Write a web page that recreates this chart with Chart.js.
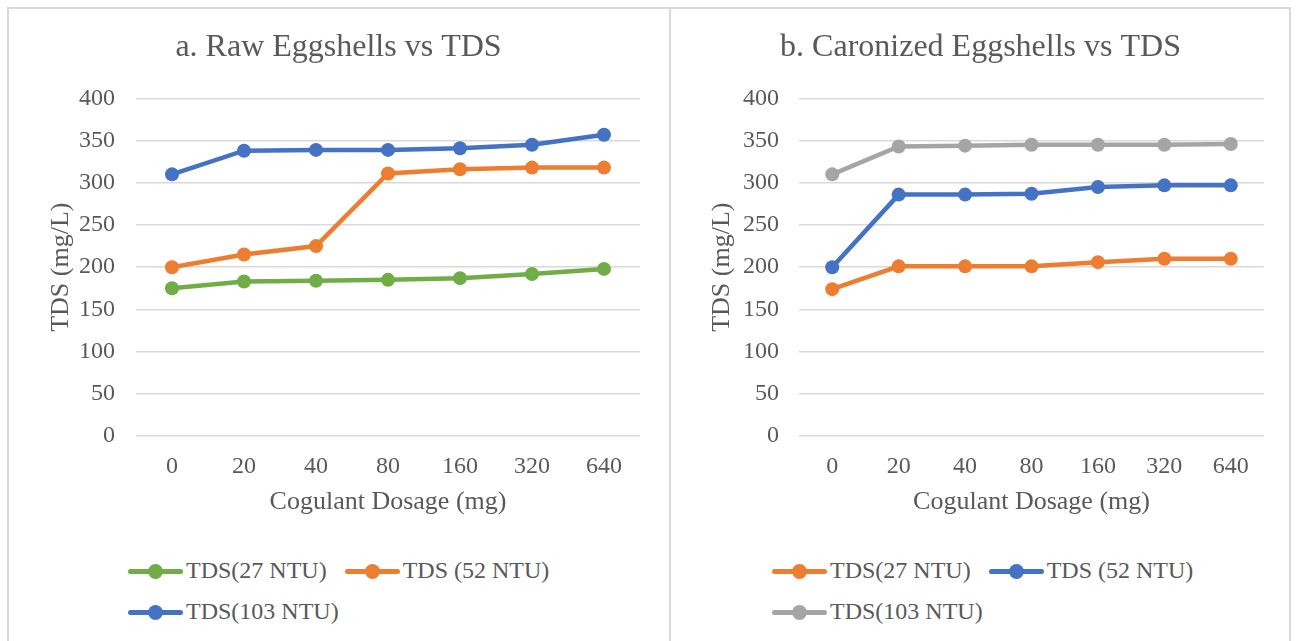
<!DOCTYPE html>
<html>
<head>
<meta charset="utf-8">
<script src="https://cdn.jsdelivr.net/npm/chart.js@4"></script>
<style>
    body {
        margin: 0;
        background: #fff;
        font-family: 'Liberation Serif', 'Times New Roman', serif;
        color: #595959;
    }
    .box {
        position: absolute;
        top: 7px;
        height: 640px;
        border: 2px solid #d9d9d9;
        box-sizing: border-box;
    }
    .chart-wrap {
        position: absolute;
        top: 0;
        height: 545px;
    }
    .legend {
        position: absolute;
        top: 550px;
        width: 450px;
        display: flex;
        flex-wrap: wrap;
        font-size: 24px;
    }
    .legend-item {
        display: flex;
        align-items: center;
        height: 41px;
        margin-right: 18px;
    }
    .legend-mark {
        position: relative;
        width: 55px;
        height: 14px;
        margin-right: 3px;
    }
    .legend-mark .ln {
        position: absolute;
        left: 0;
        right: 0;
        top: 5px;
        height: 5px;
        border-radius: 3px;
    }
    .legend-mark .dot {
        position: absolute;
        left: 20px;
        top: 0;
        width: 15px;
        height: 15px;
        border-radius: 50%;
    }
</style>
</head>
<body>
<div class="box" style="left:7px; width:664px;"></div>
<div class="box" style="left:669px; width:622px;"></div>

<div class="chart-wrap" style="left:8px; width:661px;"><canvas id="chart-raw"></canvas></div>
<div class="chart-wrap" style="left:672px; width:617px;"><canvas id="chart-carb"></canvas></div>

<div class="legend" id="legend-raw" style="left:128px;"></div>
<div class="legend" id="legend-carb" style="left:772px;"></div>

<script>
    const dosage = ['0', '20', '40', '80', '160', '320', '640'];
    const seriesNames = ['TDS(27 NTU)', 'TDS (52 NTU)', 'TDS(103 NTU)'];

    // a. raw eggshells
    const rawTds27 = [175, 183, 184, 185, 187, 192, 198];
    const rawTds52 = [200, 215, 225, 311, 316, 318, 318];
    const rawTds103 = [310, 338, 339, 339, 341, 345, 357];
    const rawColors = ['#70AD47', '#ED7D31', '#4472C4'];

    // b. carbonized eggshells
    const carbTds27 = [174, 201, 201, 201, 206, 210, 210];
    const carbTds52 = [200, 286, 286, 287, 295, 297, 297];
    const carbTds103 = [310, 343, 344, 345, 345, 345, 346];
    const carbColors = ['#ED7D31', '#4472C4', '#A5A5A5'];

    const yTicks = [0, 50, 100, 150, 200, 250, 300, 350, 400];

    const textColor = '#595959';
    const fontFamily = "'Liberation Serif', 'Times New Roman', serif";

    function makeDatasets(values, colors) {
        return values.map((v, i) => ({
            label: seriesNames[i],
            data: v,
            borderColor: colors[i],
            backgroundColor: colors[i],
            borderWidth: 4.5,
            pointRadius: 7,
            pointHoverRadius: 7,
            pointBorderWidth: 0,
            tension: 0
        }));
    }

    function makeChart(id, title, datasets, opts) {
        const ctx = document.getElementById(id).getContext('2d');
        return new Chart(ctx, {
            type: 'line',
            data: {
                labels: dosage,
                datasets: datasets
            },
            options: {
                responsive: true,
                maintainAspectRatio: false,
                animation: false,
                layout: { padding: 0 },
                plugins: {
                    legend: { display: false },
                    tooltip: { enabled: false },
                    title: {
                        display: true,
                        text: title,
                        color: textColor,
                        font: { family: fontFamily, size: 32, weight: 'normal' },
                        padding: { top: 28, bottom: 32 }
                    }
                },
                scales: {
                    x: {
                        offset: true,
                        grid: { display: false },
                        border: { display: false },
                        ticks: {
                            color: textColor,
                            font: { family: fontFamily, size: 24 },
                            padding: 8,
                            maxRotation: 0
                        },
                        title: {
                            display: true,
                            text: 'Cogulant Dosage (mg)',
                            color: textColor,
                            font: { family: fontFamily, size: 26 },
                            padding: { top: 0, bottom: 27 }
                        },
                        afterFit: scale => { scale.height = 109; }
                    },
                    y: {
                        min: 0,
                        max: 400,
                        afterBuildTicks: scale => {
                            scale.ticks = yTicks.map(v => ({ value: v }));
                        },
                        grid: {
                            color: '#d9d9d9',
                            lineWidth: 1.5,
                            drawTicks: false
                        },
                        border: { display: false },
                        ticks: {
                            color: textColor,
                            font: { family: fontFamily, size: 24 },
                            padding: opts.tickPad
                        },
                        title: {
                            display: true,
                            text: 'TDS (mg/L)',
                            color: textColor,
                            font: { family: fontFamily, size: 26 },
                            padding: { top: opts.titlePad, bottom: 0 }
                        },
                        afterFit: scale => { scale.width = opts.yWidth; }
                    },
                    // empty right axis, only keeps a margin so the title stays centred on the box
                    spacer: {
                        type: 'linear',
                        position: 'right',
                        display: true,
                        grid: { display: false },
                        border: { display: false },
                        ticks: { display: false },
                        afterFit: scale => { scale.width = opts.right; }
                    }
                }
            }
        });
    }

    function makeLegend(id, colors) {
        const el = document.getElementById(id);
        seriesNames.forEach((name, i) => {
            const item = document.createElement('div');
            item.className = 'legend-item';
            item.innerHTML =
                '<span class="legend-mark">' +
                '<span class="ln" style="background:' + colors[i] + '"></span>' +
                '<span class="dot" style="background:' + colors[i] + '"></span>' +
                '</span><span>' + name + '</span>';
            el.appendChild(item);
        });
    }

    makeChart('chart-raw', 'a. Raw Eggshells vs TDS',
        makeDatasets([rawTds27, rawTds52, rawTds103], rawColors),
        { right: 29, yWidth: 128, tickPad: 21, titlePad: 38 });

    makeChart('chart-carb', 'b. Caronized Eggshells vs TDS',
        makeDatasets([carbTds27, carbTds52, carbTds103], carbColors),
        { right: 25, yWidth: 127, tickPad: 20, titlePad: 35 });

    makeLegend('legend-raw', rawColors);
    makeLegend('legend-carb', carbColors);
</script>
</body>
</html>
